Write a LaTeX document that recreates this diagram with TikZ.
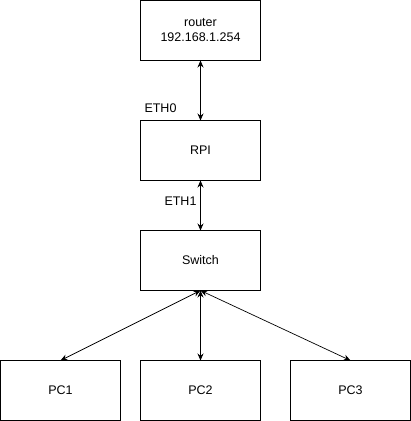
\documentclass[tikz,border=0pt]{standalone}
\usepackage{fontspec}
\setmainfont{Liberation Sans}
\usetikzlibrary{positioning, arrows.meta}
\tikzstyle{bx} = [rectangle, draw, line width=1pt, outer sep=0pt, text centered, minimum width=120pt, minimum height=60pt, font=\fontsize{12.5}{15}\selectfont, align=center]
\tikzstyle{lbl} = [inner sep=0pt, font=\fontsize{12.5}{15}\selectfont]
\tikzstyle{lk} = [line width=1pt, {Stealth[length=7pt,width=6pt]}-{Stealth[length=7pt,width=6pt]}]
\tikzstyle{lk2} = [line width=0.7pt, {Stealth[length=7pt,width=6pt]}-{Stealth[length=7pt,width=6pt]}]

\begin{document}
\begin{tikzpicture}[x=1pt, y=-1pt, node distance=60pt]
	\useasboundingbox (-0.5,-0.5) rectangle (410.5,420.5);
	\node [bx] (ro) at (200,30) {router\\192.168.1.254};
	\node [bx, below = 60pt of ro] (rp) {RPI};
	\node [bx, below = 50pt of rp] (sw) {Switch};
	\node [bx, below = 70pt of sw] (p2) {PC2};
	\node [bx, left = 20pt of p2] (p1) {PC1};
	\node [bx, right = 30pt of p2] (p3) {PC3};
	\node [lbl] (e0) at (160,108) {ETH0};
	\node [lbl] (e1) at (180,201) {ETH1};
	\draw [lk] (ro) -- (rp);
	\draw [lk] (rp) -- (sw);
	\draw [lk] (sw) -- (p2);
	\draw [lk2] (sw.south) -- (p1.north);
	\draw [lk2] (sw.south) -- (p3.north);
\end{tikzpicture}
\end{document}
